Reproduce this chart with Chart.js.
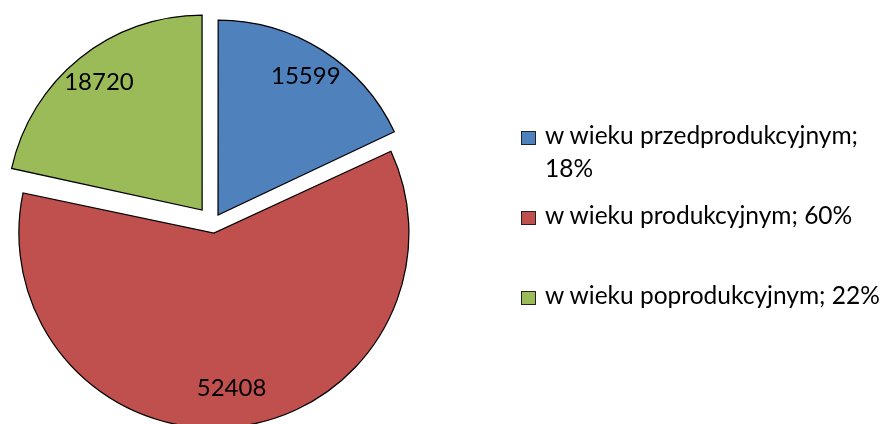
<!DOCTYPE html>
<html>
<head>
<meta charset="utf-8">
<script src="https://cdn.jsdelivr.net/npm/chart.js@4/dist/chart.umd.min.js"></script>
<style>
    body { margin: 0; background: #fff; }
    #wrap { position: relative; width: 881px; height: 424px; overflow: hidden; }
    #pie { position: absolute; left: 0; top: 0; }
    .item { position: absolute; left: 521px; font-family: Lato, sans-serif; font-size: 24.5px; line-height: 33px; color: #000; }
    .box { position: absolute; left: 0; top: 13px; width: 15px; height: 14px; box-sizing: border-box; border: 1px solid #222; }
    .txt { position: absolute; left: 24px; top: 0; width: 340px; }
</style>
</head>
<body>
<div id="wrap">
    <canvas id="pie" width="881" height="424"></canvas>
</div>
<script>
// dane
const labels = ['w wieku przedprodukcyjnym', 'w wieku produkcyjnym', 'w wieku poprodukcyjnym'];
const values = [15599, 52408, 18720];

// wygląd
const colors = ['#4F81BD', '#C0504D', '#9BBB59'];
const explode = [39, 39, 68];
const legendTops = [118, 198, 278];
const R = 195;

const total = values.reduce((a, b) => a + b, 0);

// legenda po prawej
const wrap = document.getElementById('wrap');
labels.forEach((name, i) => {
    const item = document.createElement('div');
    item.className = 'item';
    item.style.top = legendTops[i] + 'px';
    const box = document.createElement('div');
    box.className = 'box';
    box.style.background = colors[i];
    const txt = document.createElement('div');
    txt.className = 'txt';
    txt.textContent = name + '; ' + Math.round(values[i] / total * 100) + '%';
    item.appendChild(box);
    item.appendChild(txt);
    wrap.appendChild(item);
});

// chart.js powiększa promień wycinka > 180 st. przy offset - wyrównanie
const fixRadius = {
    id: 'fixRadius',
    afterDatasetUpdate(chart, args) {
        args.meta.data.forEach(el => {
            const off = (el.options.offset || 0) / 4;
            const fix = 1 - Math.sin(Math.min(Math.PI, el.circumference || 0));
            el.outerRadius = el.outerRadius - off * fix;
        });
    }
};

// etykiety z wartościami
const valueLabels = {
    id: 'valueLabels',
    afterDatasetsDraw(chart) {
        const ctx = chart.ctx;
        const meta = chart.getDatasetMeta(0);
        ctx.save();
        ctx.font = '24px Lato, sans-serif';
        ctx.fillStyle = '#000';
        ctx.textAlign = 'center';
        ctx.textBaseline = 'middle';
        meta.data.forEach((el, i) => {
            const mid = (el.startAngle + el.endAngle) / 2;
            const t = (el.options.offset || 0) / 4;
            const r = t + el.outerRadius * 0.845;
            ctx.fillText(String(values[i]), el.x + Math.cos(mid) * r, el.y + Math.sin(mid) * r);
        });
        ctx.restore();
    }
};

const chart = new Chart(document.getElementById('pie'), {
    type: 'pie',
    data: {
        labels: labels,
        datasets: [{
            data: values,
            backgroundColor: colors,
            borderColor: '#000',
            borderWidth: 1.25,
            borderJoinStyle: 'miter',
            offset: explode,
            hoverOffset: 0,
            clip: false
        }]
    },
    options: {
        responsive: false,
        devicePixelRatio: 1,
        animation: false,
        events: [],
        radius: R,
        layout: {
            padding: { left: 0, top: 22.6, right: 455.4, bottom: 0 }
        },
        plugins: {
            legend: { display: false },
            tooltip: { enabled: false }
        }
    },
    plugins: [fixRadius, valueLabels]
});
</script>
</body>
</html>
